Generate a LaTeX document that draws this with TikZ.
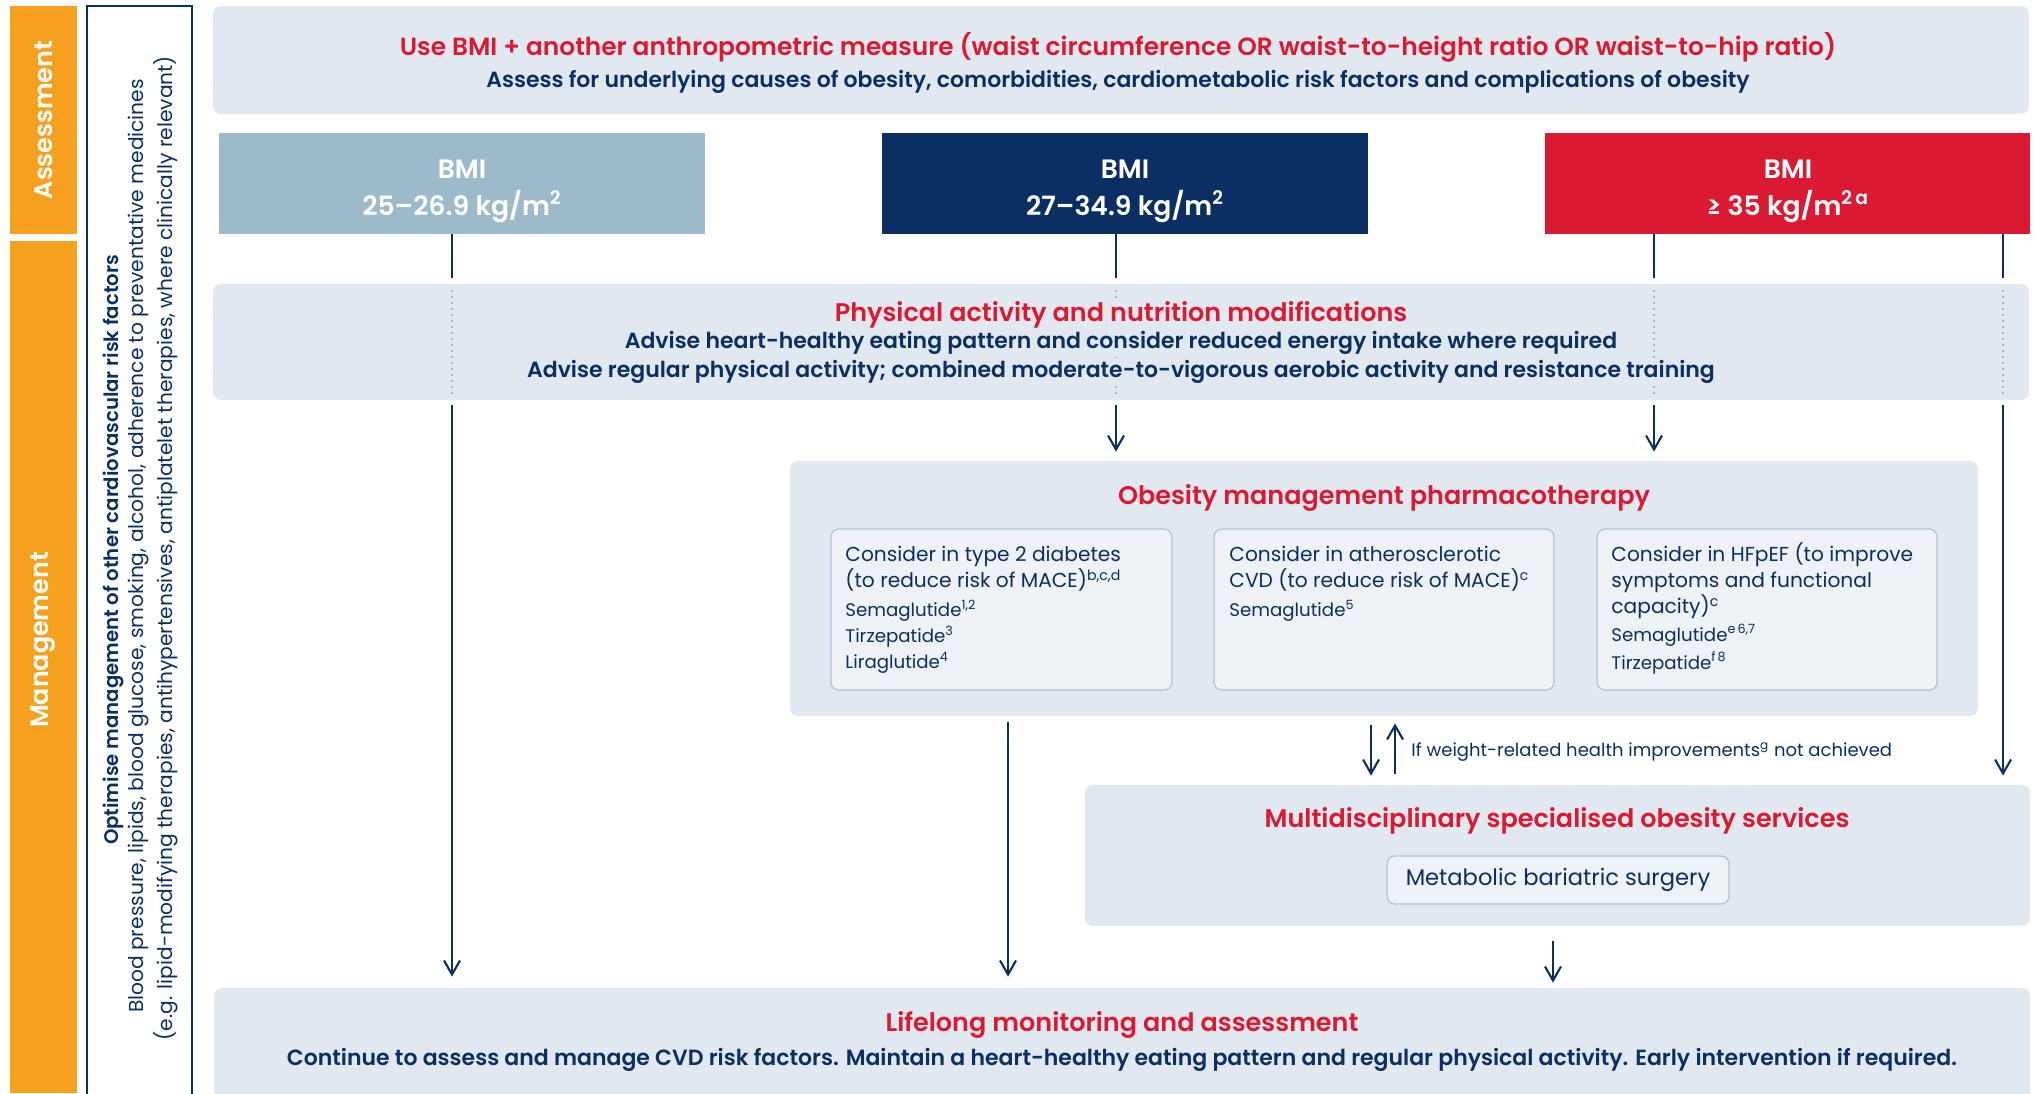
\documentclass[tikz,border=0pt]{standalone}
\usepackage{fontspec}
\setmainfont{Poppins}[BoldFont={Poppins SemiBold}]
\usetikzlibrary{arrows.meta,fit}

\definecolor{navy}{HTML}{0B2F62}
\definecolor{brandred}{HTML}{DA1A32}
\definecolor{panelfill}{HTML}{E1E8EF}
\definecolor{cardfill}{HTML}{EEF2F6}
\definecolor{cardline}{HTML}{AFC3D1}
\definecolor{steel}{HTML}{9DBACB}
\definecolor{amber}{HTML}{F5A01E}

\newcommand{\drugfont}{\fontsize{9.1}{12.3}\selectfont}

\tikzset{
  panel/.style={fill=panelfill, draw=none, rounded corners=4pt, inner sep=0pt},
  card/.style={fill=cardfill, draw=cardline, line width=0.6pt, rounded corners=4pt, inner sep=0pt},
  band/.style={draw=none, inner sep=0pt},
  link/.style={draw=navy, line width=1.2pt},
  arr/.style={link, -{Straight Barb[length=7pt,width=8pt,line width=1.05pt]}},
  guide/.style={draw=steel, line width=1pt, dotted},
  headline/.style={text=brandred, font=\bfseries\fontsize{12.75}{15}\selectfont, inner sep=1pt},
  subline/.style={text=navy, font=\bfseries\fontsize{11}{13}\selectfont, inner sep=1pt, fill=panelfill},
  bmitext/.style={text=white, align=center, font=\bfseries\fontsize{13.3}{18.5}\selectfont},
  sidelabel/.style={rotate=90, text=white, font=\bfseries\fontsize{12.7}{15}\selectfont},
  sidetext/.style={rotate=90, text=navy, font=\fontsize{10.1}{12}\selectfont},
  cardtext/.style={text=navy, align=left, anchor=north west, inner sep=0pt, font=\fontsize{10.1}{13}\selectfont},
}

\begin{document}
\begin{tikzpicture}[x=0.5pt,y=-0.5pt]
\useasboundingbox (0,0) rectangle (2037,1093);
\clip (0,0) rectangle (2037,1093);

% column positions of the vertical connectors
\coordinate (colA) at (452,0);
\coordinate (colB) at (1116,0);
\coordinate (colC) at (1654,0);
\coordinate (colD) at (2003,0);
\coordinate (colE) at (1008,0);
\coordinate (colF) at (1553,0);
\coordinate (colG) at (1371,0);
\coordinate (colH) at (1395,0);

% stage bands on the left
\node[band, fill=amber, fit={(10,6) (77,234)}] (assess) {};
\node[sidelabel] (assesslbl) at (assess.center) {Assessment};
\node[band, fill=amber, fit={(10,241) (77,1093)}] (manage) {};
\node[sidelabel] (managelbl) at (43.5,640) {Management};

% cardiovascular risk factor column
\node[draw=navy, line width=1.2pt, inner sep=0pt, fit={(87,6) (192,1120)}] (riskbox) {};
\node[sidetext, font=\bfseries\fontsize{9.85}{12}\selectfont] (risktitle) at (113,550) {Optimise management of other cardiovascular risk factors};
\node[sidetext] (riskone) at (139,546) {Blood pressure, lipids, blood glucose, smoking, alcohol, adherence to preventative medicines};
\node[sidetext] (risktwo) at (166,548) {(e.g. lipid-modifying therapies, antihypertensives, antiplatelet therapies, where clinically relevant)};

% assessment panel
\node[panel, fit={(213,6) (2029,114)}] (top) {};
\node[headline, font=\bfseries\fontsize{12.45}{15}\selectfont] (toptitle) at (1118,47) {Use BMI + another anthropometric measure (waist circumference OR waist-to-height ratio OR waist-to-hip ratio)};
\node[subline] (topsub) at (1118,82) {Assess for underlying causes of obesity, comorbidities, cardiometabolic risk factors and complications of obesity};

% BMI categories
\node[band, fill=steel, fit={(219,133) (705,234)}] (bmi1) {};
\node[band, fill=navy, fit={(882,133) (1368,234)}] (bmi2) {};
\node[band, fill=brandred, fit={(1545,133) (2030,234)}] (bmi3) {};
\node[bmitext] (bmi1t) at (462,191) {BMI\\25–26.9 kg/m\textsuperscript{2}};
\node[bmitext] (bmi2t) at (1125,191) {BMI\\27–34.9 kg/m\textsuperscript{2}};
\node[bmitext] (bmi3t) at (1788,191) {BMI\\≥ 35 kg/m\textsuperscript{2\,a}};

% lifestyle panel
\node[panel, fit={(213,284) (2029,400)}] (pa) {};
\foreach \c in {colA,colB,colC,colD}
  \draw[guide] ([yshift=-3pt]pa.north -| \c) -- ([yshift=2.5pt]pa.south -| \c);
\node[headline, fill=panelfill] (patitle) at (1121,315) {Physical activity and nutrition modifications};
\node[subline] (paone) at (1121,343) {Advise heart-healthy eating pattern and consider reduced energy intake where required};
\node[subline] (patwo) at (1121,372) {Advise regular physical activity; combined moderate-to-vigorous aerobic activity and resistance training};

% pharmacotherapy panel
\node[panel, fit={(790,461) (1978,716)}] (pharma) {};
\node[headline] (pharmatitle) at (1384,498) {Obesity management pharmacotherapy};
\node[card, fit={(831,529) (1172,690)}] (t2d) {};
\node[card, fit={(1214,529) (1554,690)}] (cvd) {};
\node[card, fit={(1597,529) (1937,690)}] (hf) {};
\node[cardtext] (t2dt) at (845,546) {Consider in type 2 diabetes\\(to reduce risk of MACE)\textsuperscript{b,c,d}\\[1.5pt]
  {\drugfont Semaglutide\textsuperscript{1,2}}\\{\drugfont Tirzepatide\textsuperscript{3}}\\{\drugfont Liraglutide\textsuperscript{4}}};
\node[cardtext] (cvdt) at (1229,546) {Consider in atherosclerotic\\CVD (to reduce risk of MACE)\textsuperscript{c}\\[1.5pt]
  {\drugfont Semaglutide\textsuperscript{5}}};
\node[cardtext] (hft) at (1611,542) {Consider in HFpEF (to improve\\symptoms and functional\\capacity)\textsuperscript{c}\\[1pt]
  {\drugfont Semaglutide\textsuperscript{e\,6,7}}\\[1pt]{\drugfont Tirzepatide\textsuperscript{f\,8}}};

% specialist services panel
\node[panel, fit={(1085,785) (2030,926)}] (mdt) {};
\node[headline] (mdttitle) at (1557,821) {Multidisciplinary specialised obesity services};
\node[card, fit={(1387,856) (1729,904)}] (surgery) {};
\node[text=navy, font=\fontsize{11.3}{13}\selectfont] (surgeryt) at (surgery.center) {Metabolic bariatric surgery};
\node[anchor=west, text=navy, inner sep=0pt, font=\fontsize{9}{11}\selectfont] (escalate) at (1411,752) {If weight-related health improvements\textsuperscript{g} not achieved};

% lifelong panel
\node[panel, fit={(214,988) (2030,1120)}] (life) {};
\node[headline] (lifetitle) at (1122,1025) {Lifelong monitoring and assessment};
\node[subline] (lifeone) at (1122,1060) {Continue to assess and manage CVD risk factors. Maintain a heart-healthy eating pattern and regular physical activity. Early intervention if required.};

% connectors
\draw[link, shorten >=3pt] (bmi1.south -| colA) -- (pa.north -| colA);
\draw[link, shorten >=3pt] (bmi2.south -| colB) -- (pa.north -| colB);
\draw[link, shorten >=3pt] (bmi3.south -| colC) -- (pa.north -| colC);
\draw[link, shorten >=3pt] (bmi3.south -| colD) -- (pa.north -| colD);
\draw[arr, shorten <=2.5pt, shorten >=5.5pt] (pa.south -| colA) -- (life.north -| colA);
\draw[arr, shorten <=2.5pt, shorten >=4.5pt] (pa.south -| colB) -- (pharma.north -| colB);
\draw[arr, shorten <=2.5pt, shorten >=4.5pt] (pa.south -| colC) -- (pharma.north -| colC);
\draw[arr, shorten <=2.5pt, shorten >=4.5pt] (pa.south -| colD) -- (mdt.north -| colD);
\draw[arr, shorten <=3pt, shorten >=5.5pt] (pharma.south -| colE) -- (life.north -| colE);
\draw[arr, shorten <=7.5pt, shorten >=2.5pt] (mdt.south -| colF) -- (life.north -| colF);
\draw[arr, shorten <=4.5pt, shorten >=4.5pt] (pharma.south -| colG) -- (mdt.north -| colG);
\draw[arr, shorten <=5.5pt, shorten >=3.5pt] (mdt.north -| colH) -- (pharma.south -| colH);
\end{tikzpicture}
\end{document}
